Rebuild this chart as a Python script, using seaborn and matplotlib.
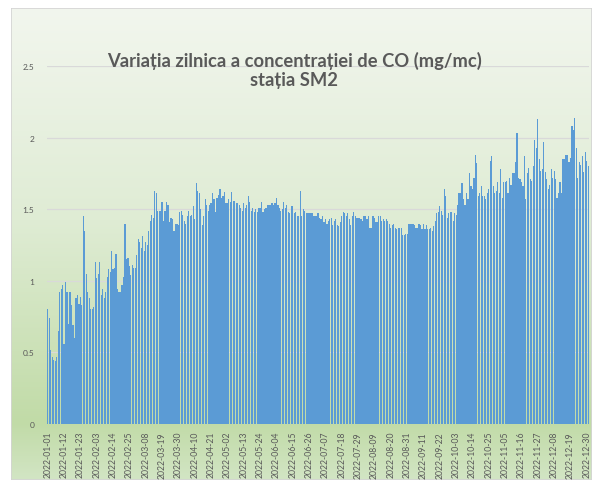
import numpy as np
import pandas as pd
import matplotlib.pyplot as plt
import seaborn as sns
from matplotlib.colors import LinearSegmentedColormap
from matplotlib.patches import Rectangle

# daily CO values (mg/mc), one list per month
co_jan = [0.80, 0.74, 0.52, 0.47, 0.45, 0.44, 0.47, 0.65, 0.92, 0.94, 0.97, 0.56, 0.99, 0.92, 0.70, 0.92,
          0.83, 0.69, 0.60, 0.88, 0.90, 0.84, 0.89, 0.83, 1.45, 1.35, 1.05, 0.92, 0.88, 0.80, 0.80]
co_feb = [0.82, 1.13, 1.02, 1.05, 1.13, 0.90, 0.94, 0.88, 0.92, 1.03, 1.08, 1.06, 1.21, 1.08,
          1.09, 1.19, 0.94, 0.92, 0.92, 0.97, 1.03, 1.40, 1.15, 1.16, 1.10, 1.04, 1.11, 1.09]
co_mar = [1.09, 1.18, 1.29, 1.27, 1.23, 1.31, 1.21, 1.27, 1.25, 1.35, 1.42, 1.46, 1.44, 1.63, 1.61, 1.49,
          1.49, 1.49, 1.55, 1.42, 1.49, 1.55, 1.53, 1.41, 1.44, 1.43, 1.35, 1.40, 1.40, 1.39, 1.48]
co_apr = [1.49, 1.46, 1.42, 1.40, 1.45, 1.49, 1.45, 1.46, 1.52, 1.43, 1.68, 1.63, 1.61, 1.50, 1.39,
          1.45, 1.57, 1.53, 1.49, 1.53, 1.54, 1.61, 1.57, 1.48, 1.58, 1.60, 1.64, 1.58, 1.59, 1.62]
co_may = [1.54, 1.54, 1.57, 1.55, 1.62, 1.56, 1.56, 1.54, 1.54, 1.53, 1.51, 1.49, 1.54, 1.51, 1.53, 1.59,
          1.55, 1.49, 1.51, 1.48, 1.50, 1.48, 1.51, 1.51, 1.55, 1.48, 1.50, 1.51, 1.53, 1.53, 1.53]
co_jun = [1.54, 1.53, 1.54, 1.58, 1.53, 1.51, 1.49, 1.50, 1.55, 1.51, 1.53, 1.48, 1.47, 1.52, 1.52,
          1.47, 1.48, 1.45, 1.45, 1.63, 1.45, 1.50, 1.49, 1.47, 1.47, 1.47, 1.47, 1.47, 1.45, 1.45]
co_jul = [1.45, 1.47, 1.44, 1.43, 1.45, 1.41, 1.43, 1.40, 1.42, 1.43, 1.44, 1.39, 1.42, 1.43, 1.39, 1.38,
          1.41, 1.45, 1.48, 1.47, 1.45, 1.47, 1.43, 1.39, 1.45, 1.48, 1.45, 1.44, 1.44, 1.44, 1.43]
co_aug = [1.42, 1.45, 1.45, 1.43, 1.45, 1.37, 1.37, 1.45, 1.44, 1.41, 1.41, 1.45, 1.45, 1.42, 1.43, 1.42,
          1.43, 1.42, 1.40, 1.37, 1.39, 1.40, 1.37, 1.36, 1.37, 1.37, 1.37, 1.32, 1.32, 1.33, 1.33]
co_sep = [1.40, 1.40, 1.40, 1.40, 1.39, 1.37, 1.37, 1.40, 1.39, 1.36, 1.40, 1.36, 1.39, 1.36, 1.36,
          1.37, 1.35, 1.38, 1.42, 1.47, 1.48, 1.52, 1.49, 1.46, 1.64, 1.59, 1.44, 1.47, 1.48, 1.48]
co_oct = [1.42, 1.47, 1.46, 1.53, 1.61, 1.61, 1.68, 1.57, 1.53, 1.61, 1.57, 1.75, 1.66, 1.64, 1.72, 1.88,
          1.82, 1.59, 1.61, 1.66, 1.59, 1.59, 1.57, 1.61, 1.64, 1.84, 1.87, 1.66, 1.61, 1.63, 1.69]
co_nov = [1.61, 1.78, 1.58, 1.69, 1.69, 1.70, 1.61, 1.72, 1.67, 1.75, 1.75, 1.83, 2.03, 1.72, 1.71,
          1.69, 1.66, 1.87, 1.57, 1.75, 1.79, 1.71, 1.70, 1.80, 1.98, 1.93, 2.13, 1.85, 1.77, 1.78]
co_dec = [1.97, 1.76, 1.71, 1.64, 1.67, 1.78, 1.72, 1.77, 1.71, 1.58, 1.61, 1.69, 1.61, 1.85, 1.85, 1.88,
          1.88, 1.83, 1.86, 2.08, 2.05, 2.14, 1.93, 1.72, 1.83, 1.81, 1.87, 1.76, 1.90, 1.84, 1.80]

values = co_jan + co_feb + co_mar + co_apr + co_may + co_jun + co_jul + co_aug + co_sep + co_oct + co_nov + co_dec
dates = pd.date_range('2022-01-01', periods=len(values), freq='D').strftime('%Y-%m-%d')
df = pd.DataFrame({'data': dates, 'co': values})

y_ticks = [0, 0.5, 1, 1.5, 2, 2.5]
y_labels = ['0', '0.5', '1', '1.5', '2', '2.5']
title = 'Variația zilnica a concentrației de CO (mg/mc)\nstația SM2'

sns.set_theme(style='white')
plt.rcParams['font.family'] = ['Lato', 'DejaVu Sans']
grey = '#595959'

W, H = 592, 481
fig = plt.figure(figsize=(W / 100, H / 100), dpi=100)
fig.patch.set_facecolor('white')

# gradient chart area (like the excel preset fill)
bg = fig.add_axes([11 / W, 0, (W - 11) / W, (H - 9) / H])
cmap = LinearSegmentedColormap.from_list('fill', [(0, '#f2f6ee'), (0.45, '#dfecd4'),
                                                 (0.88, '#c1dba7'), (1, '#d2e5c4')])
bg.imshow(np.linspace(0, 1, 256).reshape(-1, 1), aspect='auto', cmap=cmap, extent=[0, 1, 0, 1])
bg.add_patch(Rectangle((0, 0), 1, 1, transform=bg.transAxes, fill=False, ec='#d4d4d4', lw=1.2))
bg.set_xlim(0, 1)
bg.set_ylim(0, 1)
bg.axis('off')

ax = fig.add_axes([47 / W, 56 / H, 542 / W, 358 / H])
ax.set_facecolor('none')
sns.barplot(data=df, x='data', y='co', color='#5b9bd5', saturation=1, width=0.8,
            linewidth=0, ax=ax)
ax.set_xlim(-0.5, len(values) - 0.5)
ax.set_ylim(0, 2.5)
ax.set_yticks(y_ticks)
ax.set_yticklabels(y_labels)
tick_pos = list(range(0, len(values), 11))
ax.set_xticks(tick_pos)
ax.set_xticklabels([dates[i] for i in tick_pos], rotation=90, va='top', ha='center')
ax.yaxis.grid(True, color='#d9d9d9', lw=0.9)
ax.set_axisbelow(True)
for s in ax.spines.values():
    s.set_visible(False)
ax.tick_params(axis='y', length=0, labelsize=6, colors=grey, pad=9)
ax.tick_params(axis='x', length=0, labelsize=6.2, colors=grey, pad=5)
ax.set_xlabel('')
ax.set_ylabel('')

fig.text(294 / W, 1 - 70.5 / H, title, ha='center', va='center', fontsize=13.2,
         fontweight='bold', color=grey, linespacing=1.15)

fig.savefig('out.png', dpi=100)
